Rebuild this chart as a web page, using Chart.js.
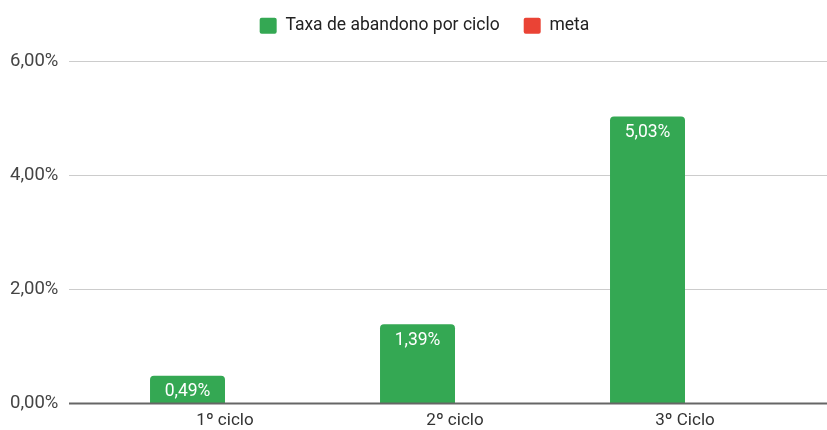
<!DOCTYPE html>
<html>
<head>
<meta charset="utf-8">
<script src="https://cdn.jsdelivr.net/npm/chart.js@4"></script>
<style>
  html, body { margin: 0; padding: 0; background: #fff; }
  #wrap { width: 827px; height: 430px; }
</style>
</head>
<body>
<div id="wrap"><canvas id="chart" width="827" height="430"></canvas></div>
<script>
  const categories = ['1º ciclo', '2º ciclo', '3º Ciclo'];
  const taxaAbandono = [0.49, 1.39, 5.03];
  const meta = [null, null, null];
  const yTicks = [0, 2, 4, 6];

  const GREEN = '#34a853';
  const RED = '#ea4335';
  const FONT = 'Roboto, Arial, sans-serif';

  function fmtPct(v) {
    return v.toFixed(2).replace('.', ',') + '%';
  }

  // horizontal grid lines run wider than the plot area (Google Sheets look)
  const gridPlugin = {
    id: 'wideGrid',
    beforeDatasetsDraw(chart) {
      const { ctx } = chart;
      const y = chart.scales.y;
      ctx.save();
      ctx.strokeStyle = '#cccccc';
      ctx.lineWidth = 1;
      yTicks.forEach(t => {
        if (t === 0) return;
        const py = Math.round(y.getPixelForValue(t)) + 0.5;
        ctx.beginPath();
        ctx.moveTo(69, py);
        ctx.lineTo(chart.width, py);
        ctx.stroke();
      });
      ctx.restore();
    },
    afterDatasetsDraw(chart) {
      const { ctx } = chart;
      const y = chart.scales.y;
      ctx.save();
      const py = y.getPixelForValue(0);
      ctx.strokeStyle = '#666666';
      ctx.lineWidth = 2;
      ctx.beginPath();
      ctx.moveTo(69, py);
      ctx.lineTo(chart.width, py);
      ctx.stroke();

      // value labels inside the green bars
      const meta0 = chart.getDatasetMeta(0);
      ctx.fillStyle = '#ffffff';
      ctx.font = '17.5px ' + FONT;
      ctx.textAlign = 'center';
      ctx.textBaseline = 'middle';
      meta0.data.forEach((bar, i) => {
        const v = taxaAbandono[i];
        if (v == null) return;
        ctx.fillText(fmtPct(v), bar.x, bar.y + 16);
      });
      ctx.restore();
    }
  };

  new Chart(document.getElementById('chart'), {
    type: 'bar',
    data: {
      labels: categories,
      datasets: [
        { label: 'Taxa de abandono por ciclo', data: taxaAbandono, backgroundColor: GREEN,
          borderRadius: { topLeft: 4, topRight: 4 }, borderSkipped: 'bottom' },
        { label: 'meta', data: meta, backgroundColor: RED,
          borderRadius: { topLeft: 4, topRight: 4 }, borderSkipped: 'bottom' }
      ]
    },
    options: {
      responsive: false,
      animation: false,
      devicePixelRatio: 1,
      categoryPercentage: 0.652,
      barPercentage: 1,
      layout: { padding: { top: -7, right: -12, left: 10, bottom: -8 } },
      plugins: {
        legend: {
          position: 'top',
          weight: 3000,
          labels: {
            boxWidth: 17,
            boxHeight: 16,
            padding: 24,
            color: '#222222',
            font: { family: FONT, size: 17.5 },
            generateLabels(chart) {
              return chart.data.datasets.map((ds, i) => ({
                text: ds.label,
                fillStyle: ds.backgroundColor,
                strokeStyle: ds.backgroundColor,
                lineWidth: 0,
                borderRadius: 2,
                hidden: false,
                datasetIndex: i,
                fontColor: '#222222'
              }));
            }
          }
        },
        // empty spacer between legend and plot
        subtitle: {
          display: true,
          text: ' ',
          font: { size: 1 },
          padding: { top: 0, bottom: 15.5 }
        },
        tooltip: { enabled: false }
      },
      scales: {
        x: {
          grid: { display: false, drawTicks: false },
          border: { display: false },
          ticks: { color: '#333333', font: { family: FONT, size: 17 }, padding: 7 }
        },
        y: {
          min: 0,
          max: 6,
          grid: { display: false, drawTicks: false },
          border: { display: false },
          ticks: {
            stepSize: 2,
            color: '#444444',
            font: { family: FONT, size: 18.5 },
            padding: 0,
            crossAlign: 'far',
            callback: v => fmtPct(v)
          },
          afterFit(scale) { scale.width = 100; }
        },
        // blank right gutter so the plot ends before the canvas edge
        y2: {
          position: 'right',
          grid: { display: false, drawTicks: false },
          border: { display: false },
          ticks: { display: false },
          afterFit(scale) { scale.width = 39; }
        }
      }
    },
    plugins: [gridPlugin]
  });
</script>
</body>
</html>
